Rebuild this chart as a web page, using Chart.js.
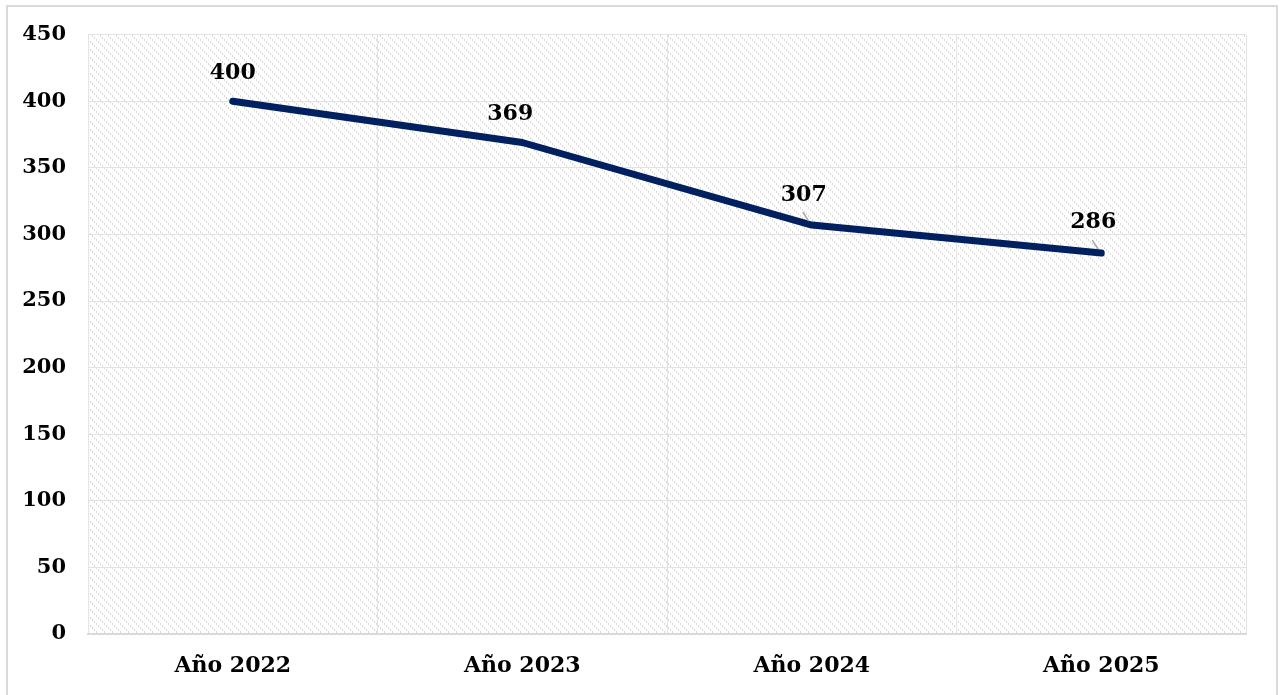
<!DOCTYPE html>
<html>
<head>
<meta charset="utf-8">
<script src="https://cdn.jsdelivr.net/npm/chart.js@4.4.1/dist/chart.umd.min.js"></script>
<style>
  html, body { margin:0; padding:0; background:#fff; overflow:hidden; }
  #wrap { position:absolute; left:0; top:0; width:1283px; height:695px; }
  #frame { position:absolute; left:6px; top:5px; width:1268px; height:700px; border:2px solid #d9d9d9; pointer-events:none; }
</style>
</head>
<body>
<div id="wrap"><canvas id="lineChart" width="1283" height="695"></canvas></div>
<div id="frame"></div>
<script>
// Datos
const years = ['Año 2022','Año 2023','Año 2024','Año 2025'];
const values = [400, 369, 307, 286];
const yTicks = [0, 50, 100, 150, 200, 250, 300, 350, 400, 450];

const fontFam = '"DejaVu Serif", serif';

// Patrón rayado de fondo
function makePattern(ctx){
  const t = document.createElement('canvas');
  t.width = 8; t.height = 8;
  const c = t.getContext('2d');
  c.fillStyle = '#ffffff';
  c.fillRect(0,0,8,8);
  c.fillStyle = '#d6d6d6';
  for(let y=0;y<8;y++){
    for(let x=0;x<8;x++){
      const d = ((x - y) % 8 + 8) % 8;
      if((d===0 && y%2===0) || (d===1 && y%2===1)) c.fillRect(x,y,1,1);
    }
  }
  return ctx.createPattern(t,'repeat');
}

const bgPlugin = {
  id:'bgPattern',
  beforeDraw(chart){
    const {ctx, chartArea:a} = chart;
    ctx.save();
    ctx.fillStyle = makePattern(ctx);
    ctx.fillRect(a.left, a.top, a.right-a.left, a.bottom-a.top);
    ctx.restore();
  }
};

// Etiquetas de datos con línea guía
const labelOffsets = [[0,-28],[-12,-28],[-8,-30],[-8,-31]];
const labelsPlugin = {
  id:'dataLabels',
  afterDatasetsDraw(chart){
    const {ctx} = chart;
    const meta = chart.getDatasetMeta(0);
    ctx.save();
    ctx.font = 'bold 22px ' + fontFam;
    ctx.fillStyle = '#000';
    ctx.textAlign = 'center';
    ctx.textBaseline = 'middle';
    meta.data.forEach((pt,i)=>{
      const [dx,dy] = labelOffsets[i];
      const lx = pt.x + dx, ly = pt.y + dy;
      if(i>=2){
        ctx.strokeStyle = '#a6a6a6';
        ctx.lineWidth = 1.5;
        ctx.beginPath();
        ctx.moveTo(pt.x-3, pt.y-4);
        ctx.lineTo(pt.x-9, pt.y-13);
        ctx.stroke();
      }
      ctx.fillText(String(values[i]), lx, ly);
    });
    ctx.restore();
  }
};

const ctxLine = document.getElementById('lineChart').getContext('2d');
const lineChart = new Chart(ctxLine, {
  type:'line',
  data:{
    labels:years,
    datasets:[{
      data:values,
      borderColor:'#002060',
      borderWidth:7,
      borderCapStyle:'round',
      borderJoinStyle:'round',
      pointRadius:0,
      tension:0,
      fill:false
    }]
  },
  plugins:[bgPlugin, labelsPlugin],
  options:{
    responsive:false,
    animation:false,
    layout:{padding:{top:30, right:37, left:0, bottom:0}},
    plugins:{legend:{display:false}, tooltip:{enabled:false}},
    scales:{
      x:{
        offset:true,
        grid:{color:'#e3e3e3', lineWidth:1, offset:true, drawTicks:false},
        border:{color:'#d9d9d9', width:2},
        ticks:{color:'#000', font:{family:fontFam, size:22, weight:'bold'}, padding:19},
        afterFit(s){ s.height = 61; }
      },
      y:{
        min:0, max:450,
        afterBuildTicks(s){ s.ticks = yTicks.map(v=>({value:v})); },
        grid:{color:'#e3e3e3', lineWidth:1, drawTicks:false},
        border:{display:false},
        ticks:{color:'#000', font:{family:fontFam, size:21, weight:'bold'}, padding:22},
        afterFit(s){ s.width = 88; }
      }
    }
  }
});
</script>
</body>
</html>
